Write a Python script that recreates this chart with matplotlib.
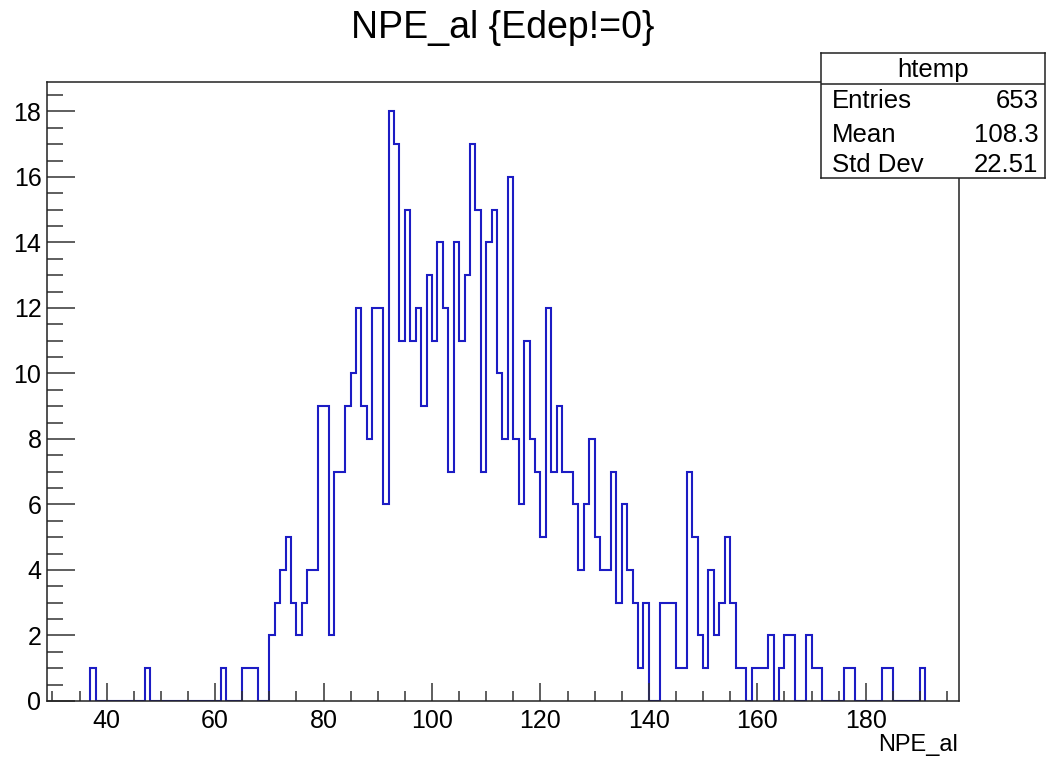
import numpy as np
import matplotlib
matplotlib.use('Agg')
import matplotlib.pyplot as plt
from matplotlib.ticker import MultipleLocator

plt.rcParams['font.family'] = ['Liberation Sans', 'DejaVu Sans']

# 直方图数据：每个bin宽度为1，从37开始
first_bin = 37
npe_counts = [1, 0, 0, 0, 0, 0, 0, 0, 0, 0,            # 37-46
              1, 0, 0, 0, 0, 0, 0, 0, 0, 0,            # 47-56
              0, 0, 0, 0, 1, 0, 0, 0, 1, 1,            # 57-66
              1, 0, 0,                                 # 67-69
              2, 3, 4, 5, 3, 2, 3, 4, 4, 9,            # 70-79
              9, 2, 7, 7, 9, 10, 12, 9, 8, 12,         # 80-89
              12, 6, 18, 17, 11, 15, 11, 12, 9, 13,    # 90-99
              11, 14, 12, 7, 14, 11, 13, 17, 15, 7,    # 100-109
              14, 15, 10, 8, 16, 8, 6, 11, 8, 7,       # 110-119
              5, 12, 7, 9, 7, 7, 6, 4, 6, 8,           # 120-129
              5, 4, 4, 7, 3, 6, 4, 3, 1, 3,            # 130-139
              0, 0, 3, 3, 3, 1, 1, 7, 5, 2,            # 140-149
              1, 4, 2, 3, 5, 3, 1, 1, 0, 1,            # 150-159
              1, 1, 2, 0, 1, 2, 2, 0, 0, 2,            # 160-169
              1, 1, 0, 0, 0, 0, 1, 1, 0, 0,            # 170-179
              0, 0, 0, 1, 1, 0, 0, 0, 0, 0,            # 180-189
              1]                                       # 190

stat_names = ['Entries', 'Mean', 'Std Dev']
stat_values = ['653', '108.3', '22.51']
hist_name = 'htemp'
title = 'NPE_al {Edep!=0}'
xlabel = 'NPE_al'

counts = np.array(npe_counts)
edges = np.arange(first_bin, first_bin + len(counts) + 1)

fig = plt.figure(figsize=(10.46, 7.6), dpi=100)
ax = fig.add_axes([47 / 1046, 1 - 701 / 760, (959 - 47) / 1046, (701 - 82) / 760])

ax.stairs(counts, edges, color='#1c1cc4', linewidth=1.5, zorder=1)

ax.set_xlim(29, 197.2)
ax.set_ylim(0, 18.9)

ax.xaxis.set_major_locator(MultipleLocator(20))
ax.xaxis.set_minor_locator(MultipleLocator(5))
ax.yaxis.set_major_locator(MultipleLocator(2))
ax.yaxis.set_minor_locator(MultipleLocator(0.5))

ax.tick_params(axis='x', which='major', direction='in', length=13, width=1.1,
               color='#333333', labelsize=18, pad=6)
ax.tick_params(axis='x', which='minor', direction='in', length=7.2, width=1.1,
               color='#333333')
ax.tick_params(axis='y', which='major', direction='in', length=20, width=1.1,
               color='#333333', labelsize=18, pad=4)
ax.tick_params(axis='y', which='minor', direction='in', length=11.5, width=1.1,
               color='#333333')
ax.tick_params(top=False, right=False, which='both')

for sp in ax.spines.values():
    sp.set_linewidth(1.1)
    sp.set_color('#222222')
    sp.set_zorder(3)

fig.text(503 / 1046, 1 - 28 / 760, title, ha='center', va='center', fontsize=27)
fig.text(958 / 1046, 1 - 745 / 760, xlabel, ha='right', va='center', fontsize=17)

# 统计框
sbox = fig.add_axes([821 / 1046, 1 - 178 / 760, (1045 - 821) / 1046, (178 - 53) / 760])
sbox.set_xticks([])
sbox.set_yticks([])
sbox.set_xlim(0, 1)
sbox.set_ylim(0, 1)
for sp in sbox.spines.values():
    sp.set_linewidth(1.1)
    sp.set_color('#222222')
sbox.axhline(0.756, color='#222222', linewidth=1.1)
sbox.text(0.5, 0.81, hist_name, ha='center', va='baseline', fontsize=18.5)
for name, val, yb in zip(stat_names, stat_values, [0.558, 0.29, 0.05]):
    sbox.text(0.05, yb, name, ha='left', va='baseline', fontsize=18.5)
    sbox.text(0.97, yb, val, ha='right', va='baseline', fontsize=18.5)

fig.savefig('out.png', dpi=100)
